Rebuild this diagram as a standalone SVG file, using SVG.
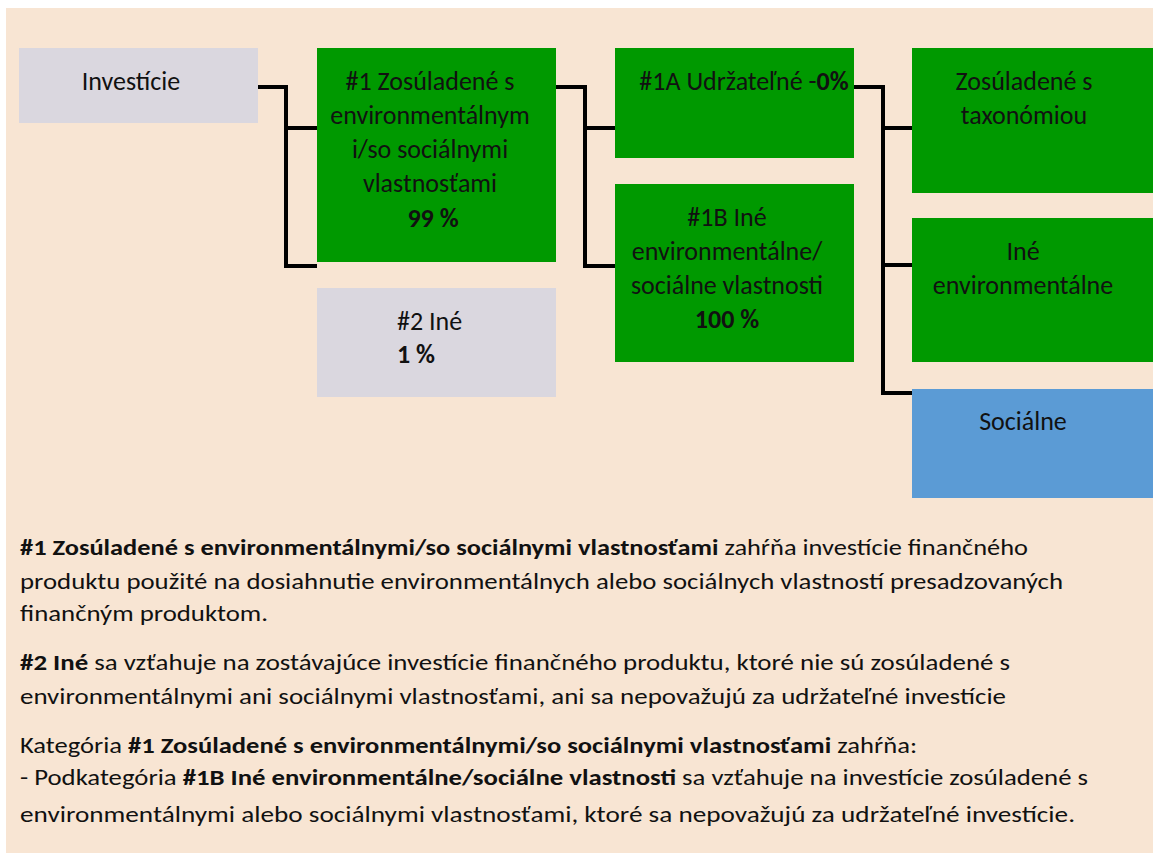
<svg xmlns="http://www.w3.org/2000/svg" width="1153" height="857" viewBox="0 0 1153 857">
<style>
text{font-family:Carlito,Lato,"Liberation Sans",sans-serif;fill:#111;}
.bx{font-size:26px;}
.mid{text-anchor:middle;}
.b{font-weight:bold;}
.ft{font-size:23px;}
.gray{fill:#DAD7DF;}
.green{fill:#009900;}
.blue{fill:#5B9BD5;}
.conn{fill:none;stroke:#000;stroke-width:4;stroke-linejoin:miter;}
</style>
<rect x="0" y="0" width="1153" height="857" fill="#fff"/>
<rect id="background" x="6" y="8" width="1147" height="845" fill="#F8E5D3"/>

<g id="connectors">
<path class="conn" d="M258,87 H286 V266 H317 M286,128 H317"/>
<path class="conn" d="M556,87 H585 V266 H615 M585,128 H615"/>
<path class="conn" d="M854,87 H883 V393 H912 M883,128 H912 M883,265 H912"/>
</g>

<g id="node-investicie">
<rect class="gray" x="19" y="48" width="239" height="75"/>
<text class="bx mid" x="131" y="90">Investície</text>
</g>

<g id="node-1">
<rect class="green" x="317" y="48" width="239" height="214"/>
<text class="bx mid" x="430" y="90">#1 Zosúladené s</text>
<text class="bx mid" x="430" y="124">environmentálnym</text>
<text class="bx mid" x="430" y="158">i/so sociálnymi</text>
<text class="bx mid" x="430" y="192">vlastnosťami</text>
<text class="bx mid b" x="433" y="227">99 %</text>
</g>

<g id="node-2">
<rect class="gray" x="317" y="288" width="239" height="109"/>
<text class="bx" x="397" y="330">#2 Iné</text>
<text class="bx b" x="397" y="363">1 %</text>
</g>

<g id="node-1A">
<rect class="green" x="615" y="48" width="239" height="110"/>
<text class="bx mid" x="744" y="90">#1A Udržateľné -<tspan class="b">0%</tspan></text>
</g>

<g id="node-1B">
<rect class="green" x="615" y="184" width="239" height="178"/>
<text class="bx mid" x="727" y="226">#1B Iné</text>
<text class="bx mid" x="727" y="260">environmentálne/</text>
<text class="bx mid" x="727" y="294">sociálne vlastnosti</text>
<text class="bx mid b" x="727" y="328">100 %</text>
</g>

<g id="node-taxonomia">
<rect class="green" x="912" y="48" width="241" height="145"/>
<text class="bx mid" x="1024" y="90">Zosúladené s</text>
<text class="bx mid" x="1024" y="124">taxonómiou</text>
</g>

<g id="node-ine-env">
<rect class="green" x="912" y="218" width="241" height="144"/>
<text class="bx mid" x="1023" y="260">Iné</text>
<text class="bx mid" x="1023" y="294">environmentálne</text>
</g>

<g id="node-socialne">
<rect class="blue" x="912" y="389" width="241" height="109"/>
<text class="bx mid" x="1023" y="430">Sociálne</text>
</g>

<g id="notes">
<text class="ft" x="20" y="555" textLength="1008" lengthAdjust="spacingAndGlyphs"><tspan class="b">#1 Zosúladené s environmentálnymi/so sociálnymi vlastnosťami</tspan> zahŕňa investície finančného</text>
<text class="ft" x="20" y="589" textLength="1043" lengthAdjust="spacingAndGlyphs">produktu použité na dosiahnutie environmentálnych alebo sociálnych vlastností presadzovaných</text>
<text class="ft" x="20" y="621" textLength="248" lengthAdjust="spacingAndGlyphs">finančným produktom.</text>
<text class="ft" x="20" y="670" textLength="990" lengthAdjust="spacingAndGlyphs"><tspan class="b">#2 Iné</tspan> sa vzťahuje na zostávajúce investície finančného produktu, ktoré nie sú zosúladené s</text>
<text class="ft" x="20" y="704" textLength="986" lengthAdjust="spacingAndGlyphs">environmentálnymi ani sociálnymi vlastnosťami, ani sa nepovažujú za udržateľné investície</text>
<text class="ft" x="20" y="753" textLength="897" lengthAdjust="spacingAndGlyphs">Kategória <tspan class="b">#1 Zosúladené s environmentálnymi/so sociálnymi vlastnosťami</tspan> zahŕňa:</text>
<text class="ft" x="20" y="785" textLength="1068" lengthAdjust="spacingAndGlyphs">- Podkategória <tspan class="b">#1B Iné environmentálne/sociálne vlastnosti</tspan> sa vzťahuje na investície zosúladené s</text>
<text class="ft" x="20" y="822" textLength="1055" lengthAdjust="spacingAndGlyphs">environmentálnymi alebo sociálnymi vlastnosťami, ktoré sa nepovažujú za udržateľné investície.</text>
</g>
</svg>
